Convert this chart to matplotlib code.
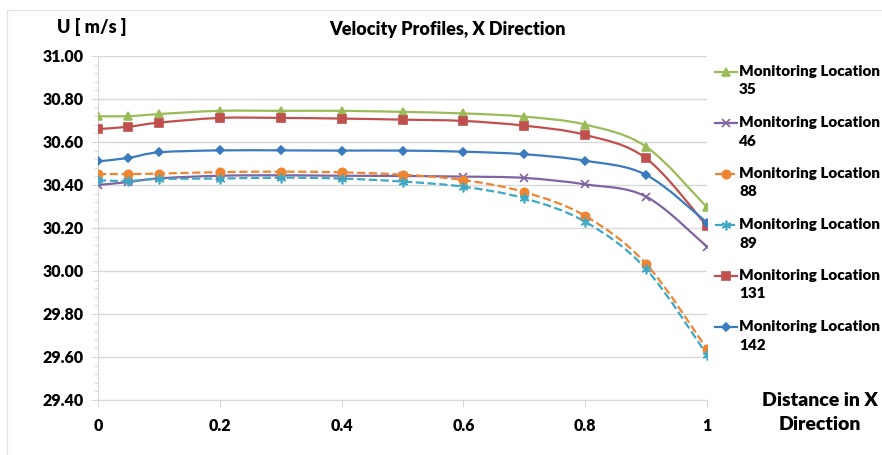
import numpy as np
import matplotlib
matplotlib.use("Agg")
import matplotlib.pyplot as plt
from matplotlib.path import Path
from matplotlib.patches import PathPatch
from matplotlib.lines import Line2D
from matplotlib.ticker import MultipleLocator, FormatStrFormatter

plt.rcParams['font.family'] = ['Lato', 'DejaVu Sans']
plt.rcParams['font.weight'] = 'heavy'
W = 'heavy'

# data
x = [0, 0.05, 0.1, 0.2, 0.3, 0.4, 0.5, 0.6, 0.7, 0.8, 0.9, 1.0]
loc35 = [30.72, 30.72, 30.73, 30.745, 30.745, 30.745, 30.74, 30.733, 30.718, 30.681, 30.578, 30.296]
loc46 = [30.40, 30.414, 30.431, 30.443, 30.445, 30.443, 30.442, 30.439, 30.433, 30.403, 30.346, 30.113]
loc88 = [30.451, 30.451, 30.453, 30.46, 30.462, 30.459, 30.448, 30.423, 30.367, 30.256, 30.033, 29.637]
loc89 = [30.422, 30.419, 30.428, 30.43, 30.434, 30.43, 30.416, 30.392, 30.338, 30.229, 30.009, 29.61]
loc131 = [30.66, 30.671, 30.69, 30.712, 30.712, 30.709, 30.704, 30.698, 30.676, 30.633, 30.524, 30.209]
loc142 = [30.51, 30.526, 30.552, 30.561, 30.561, 30.56, 30.56, 30.555, 30.543, 30.513, 30.447, 30.225]

labels = ['Monitoring Location\n35', 'Monitoring Location\n46', 'Monitoring Location\n88',
          'Monitoring Location\n89', 'Monitoring Location\n131', 'Monitoring Location\n142']
series = [loc35, loc46, loc88, loc89, loc131, loc142]
colors = ['#9BBB59', '#8064A2', '#EE8533', '#3FA9C5', '#C0504D', '#3A7BC0']
markers = ['^', 'x', 'o', (6, 2, 0), 's', 'D']
msizes = [6, 6, 6, 7, 6, 4.5]
styles = ['-', '-', '--', '--', '-', '-']


def smooth_path(xs, ys):
    # excel style smoothed line: bezier through the points
    pts = np.column_stack([xs, ys])
    n = len(pts)
    verts = [pts[0]]
    codes = [Path.MOVETO]
    for i in range(n - 1):
        p0 = pts[i - 1] if i > 0 else pts[i]
        p1 = pts[i]
        p2 = pts[i + 1]
        p3 = pts[i + 2] if i + 2 < n else pts[i + 1]
        verts += [p1 + (p2 - p0) / 6, p2 - (p3 - p1) / 6, p2]
        codes += [Path.CURVE4] * 3
    return Path(verts, codes)


fig = plt.figure(figsize=(8.82, 4.55), dpi=100)
# chart area border (only top and left show in the crop)
fig.add_artist(Line2D([7 / 882, 7 / 882, 1], [0, 1 - 10 / 455, 1 - 10 / 455], color='#E3E3E3',
                      lw=0.9, transform=fig.transFigure))
ax = fig.add_axes([98 / 882, 1 - 400 / 455, 609 / 882, 344 / 455])

for ys, c, m, ms, ls in zip(series, colors, markers, msizes, styles):
    ax.add_patch(PathPatch(smooth_path(x, ys), fill=False, edgecolor=c, lw=1.6, ls=ls,
                           capstyle='butt', zorder=3))
    ax.plot(x, ys, linestyle='none', marker=m, color=c, ms=ms, mew=1.2, zorder=4)

ax.set_xlim(0, 1)
ax.set_ylim(29.4, 31.0)
ax.yaxis.set_major_locator(MultipleLocator(0.2))
ax.yaxis.set_minor_locator(MultipleLocator(0.04))
ax.yaxis.set_major_formatter(FormatStrFormatter('%.2f'))
ax.set_xticks([0, 0.2, 0.4, 0.6, 0.8, 1.0])
ax.set_xticklabels(['0', '0.2', '0.4', '0.6', '0.8', '1'])
ax.grid(axis='y', which='major', color='#D9D9D9', lw=1)
for s in ['top', 'right']:
    ax.spines[s].set_visible(False)
for s in ['left', 'bottom']:
    ax.spines[s].set_color('#D9D9D9')
ax.tick_params(which='both', color='#D9D9D9', labelsize=11.5)
ax.tick_params(which='major', length=5)
ax.tick_params(which='minor', length=3)
ax.tick_params(axis='x', pad=8)
ax.tick_params(axis='y', pad=5)
for t in ax.get_xticklabels() + ax.get_yticklabels():
    t.set_fontweight(W)

fig.text(57 / 882, 1 - 27 / 455, 'U [ m/s ]', fontsize=13, fontweight=W, va='center', ha='left')
fig.text(447 / 882, 1 - 29 / 455, 'Velocity Profiles, X Direction', fontsize=13, fontweight=W,
         va='center', ha='center')
fig.text(820 / 882, 1 - 412 / 455, 'Distance in X\nDirection', fontsize=14, fontweight=W,
         va='center', ha='center', linespacing=1.5)

# legend drawn at the right
for i, (lab, c, m, ms, ls) in enumerate(zip(labels, colors, markers, msizes, styles)):
    yy = 1 - (72 + 51 * i) / 455
    fig.add_artist(Line2D([715 / 882, 737 / 882], [yy, yy], color=c, lw=1.6, ls=ls,
                          transform=fig.transFigure))
    fig.add_artist(Line2D([726 / 882], [yy], color=c, marker=m, ms=ms, mew=1.2,
                          transform=fig.transFigure))
    fig.text(739 / 882, yy + 7 / 455, lab, fontsize=11, fontweight=W, va='top', ha='left',
             linespacing=1.5, transform=fig.transFigure)

fig.savefig('out.png', dpi=100)
